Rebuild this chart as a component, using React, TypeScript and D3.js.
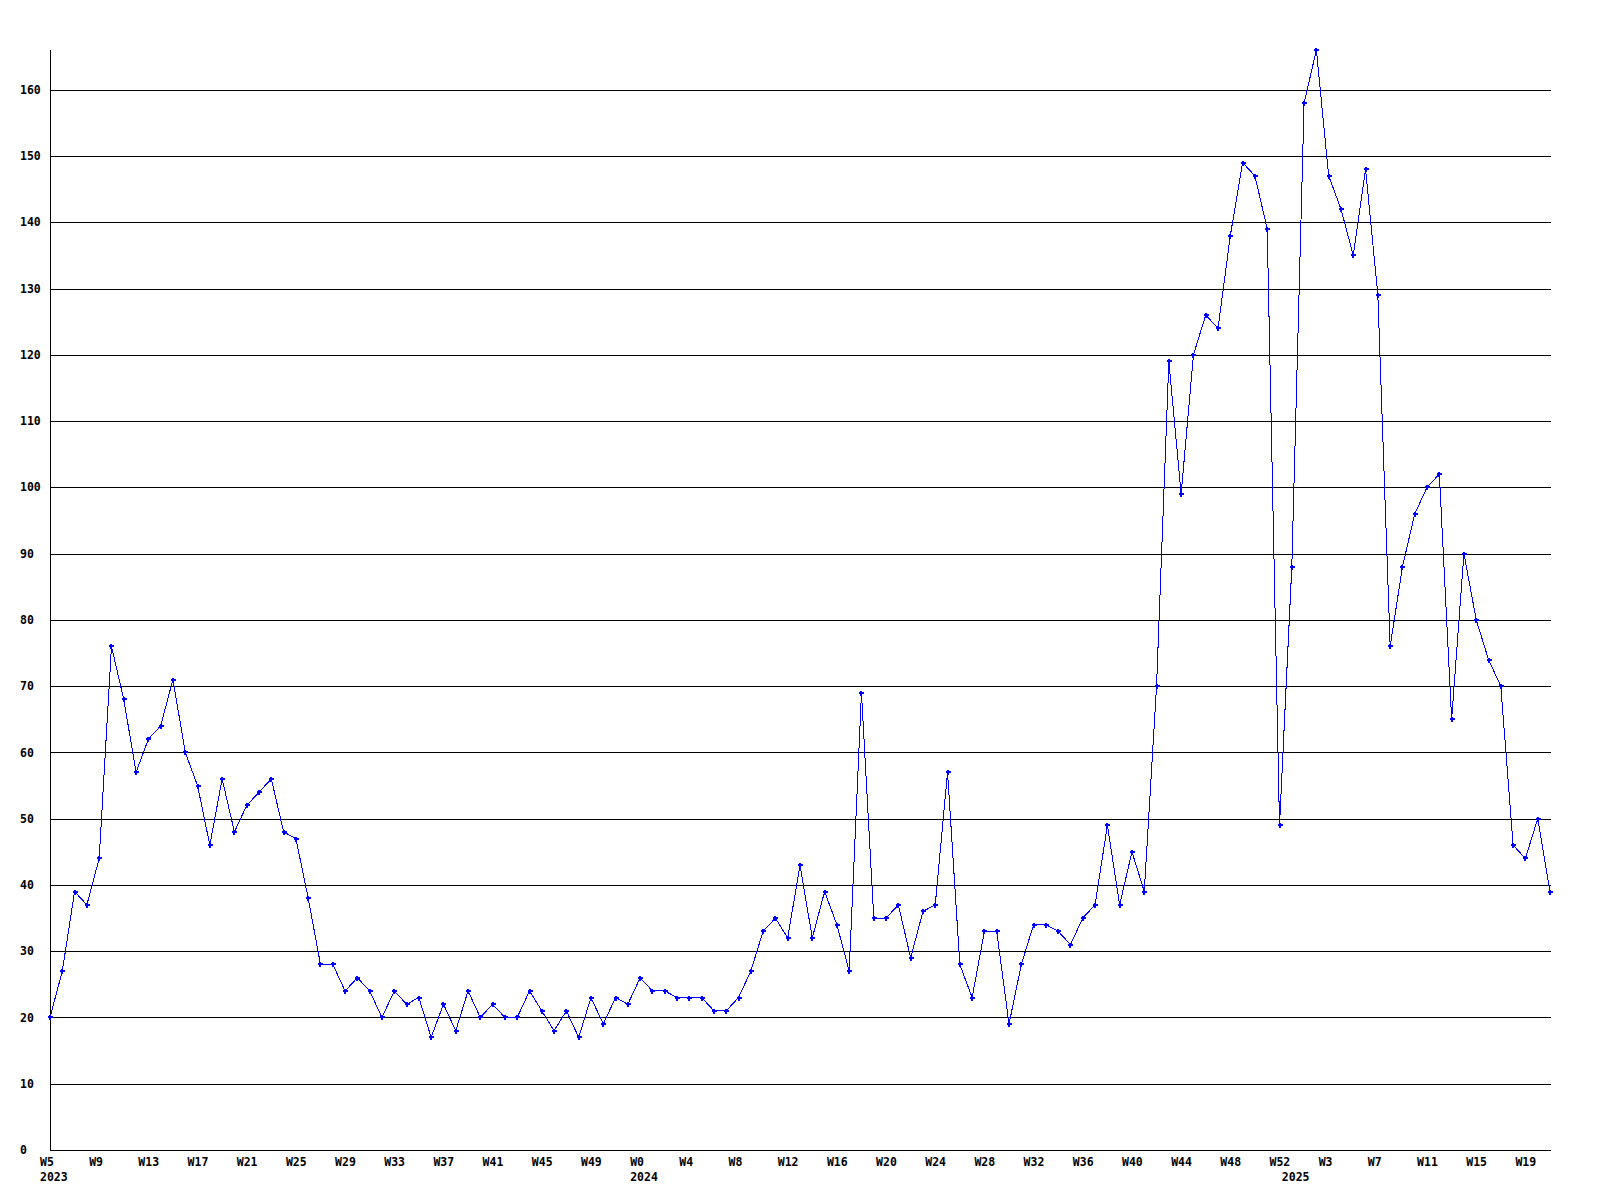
import React from "react";
import * as d3 from "d3";

// Weekly values, 2023 W5 .. 2025 W21
const values: number[] = [
  20, 27, 39, 37, 44, 76, 68, 57, 62, 64,
  71, 60, 55, 46, 56, 48, 52, 54, 56, 48,
  47, 38, 28, 28, 24, 26, 24, 20, 24, 22,
  23, 17, 22, 18, 24, 20, 22, 20, 20, 24,
  21, 18, 21, 17, 23, 19, 23, 22, 26, 24,
  24, 23, 23, 23, 21, 21, 23, 27, 33, 35,
  32, 43, 32, 39, 34, 27, 69, 35, 35, 37,
  29, 36, 37, 57, 28, 23, 33, 33, 19, 28,
  34, 34, 33, 31, 35, 37, 49, 37, 45, 39,
  70, 119, 99, 120, 126, 124, 138, 149, 147, 139,
  49, 88, 158, 166, 147, 142, 135, 148, 129, 76,
  88, 96, 100, 102, 65, 90, 80, 74, 70, 46,
  44, 50, 39,
];

// Tick labels, one every 4 weeks starting at the first point
const tickLabels: string[] = [
  "W5", "W9", "W13", "W17", "W21", "W25", "W29", "W33", "W37", "W41", "W45", "W49",
  "W0", "W4", "W8", "W12", "W16", "W20", "W24", "W28", "W32", "W36", "W40", "W44", "W48", "W52",
  "W3", "W7", "W11", "W15", "W19",
];
const tickStep = 4;

const yearLabels: string[] = ["2023", "2024", "2025"];
const yearStartIndex: number[] = [0, 48, 101];

const yTicks: number[] = [0, 10, 20, 30, 40, 50, 60, 70, 80, 90, 100, 110, 120, 130, 140, 150, 160];

const W = 1600;
const H = 1200;
const left = 50;
const right = 1550;
const top = 50;
const bottom = 1150;
const font = "'DejaVu Sans Mono', 'Liberation Mono', monospace";

export default function App() {
  const x = d3.scaleLinear().domain([0, values.length - 1]).range([left, right]);
  const y = d3.scaleLinear().domain([0, d3.max(values) as number]).range([bottom, top]);
  const line = d3
    .line<number>()
    .x((_, i) => x(i))
    .y((d) => y(d));

  return (
    <svg
      width={W}
      height={H}
      style={{ position: "absolute", left: 0, top: 0, background: "#fff" }}
      fontFamily={font}
      fontWeight="bold"
      fontSize={11.5}
    >
      <rect x={0} y={0} width={W} height={H} fill="#fff" />
      {/* grid lines */}
      {yTicks
        .filter((t) => t > 0)
        .map((t) => (
          <line
            key={"g" + t}
            x1={left}
            x2={right + 1}
            y1={Math.round(y(t)) + 0.5}
            y2={Math.round(y(t)) + 0.5}
            stroke="#000"
            strokeWidth={1}
            shapeRendering="crispEdges"
          />
        ))}
      {/* axes */}
      <line x1={left + 0.5} x2={left + 0.5} y1={top} y2={bottom + 0.5} stroke="#000" shapeRendering="crispEdges" />
      <line x1={left} x2={right + 1} y1={bottom + 0.5} y2={bottom + 0.5} stroke="#000" shapeRendering="crispEdges" />
      {/* y labels */}
      {yTicks.map((t) => (
        <text key={"yl" + t} x={20} y={y(t)} dy="0.36em" fill="#000">
          {t}
        </text>
      ))}
      {/* x labels */}
      {tickLabels.map((lab, k) => (
        <text key={"xl" + k} x={x(k * tickStep) - 10} y={1166} fill="#000">
          {lab}
        </text>
      ))}
      {yearLabels.map((lab, k) => (
        <text key={"yr" + k} x={x(yearStartIndex[k]) - 10} y={1181} fill="#000">
          {lab}
        </text>
      ))}
      {/* data line */}
      <path d={line(values) || ""} fill="none" stroke="#0000ff" strokeWidth={1} shapeRendering="crispEdges" />
      {/* markers */}
      {values.map((v, i) => (
        <g key={"m" + i} transform={`translate(${Math.round(x(i))},${Math.round(y(v))})`} fill="#0000ff">
          <rect x={-2.5} y={-1} width={5} height={2} shapeRendering="crispEdges" />
          <rect x={-1} y={-2.5} width={2} height={5} shapeRendering="crispEdges" />
        </g>
      ))}
    </svg>
  );
}
